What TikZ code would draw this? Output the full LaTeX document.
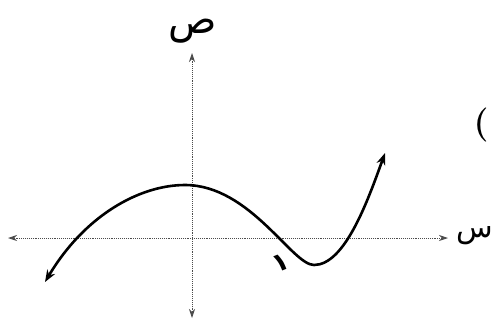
\documentclass[tikz,border=0pt]{standalone}
\usepackage{fontspec}
\newfontfamily\arabicfont[Script=Arabic]{DejaVu Sans}
\TeXXeTstate=1
\usetikzlibrary{arrows.meta}
\tikzset{
  axisline/.style={draw=black!70, line width=0.9pt, densely dotted, {Stealth[length=9pt,width=6pt]}-{Stealth[length=9pt,width=6pt]}},
  curveline/.style={draw=black, line width=2.6pt, {Stealth[length=12pt,width=9pt]}-{Stealth[length=12pt,width=9pt]}},
  arlabel/.style={inner sep=0pt, font=\arabicfont\fontsize{40}{44}\selectfont}
}
\begin{document}
\begin{tikzpicture}[x=1pt,y=-1pt]
\useasboundingbox (0,0) rectangle (497,325);
\clip (0,0) rectangle (497,325);
% axes
\coordinate (xl) at (8,238);
\coordinate (xr) at (448,238);
\coordinate (yt) at (192,53);
\coordinate (yb) at (192,318);
\draw[axisline] (xl) -- (xr);
\draw[axisline] (yt) -- (yb);
% labels
\node[arlabel] (ylab) at (193,31) {\beginR ص\endR};
\node[arlabel, font=\arabicfont\fontsize{30}{34}\selectfont] (xlab) at (475,236) {\beginR س\endR};
\node[inner sep=0pt, font=\bfseries\fontsize{34}{38}\selectfont] (paren) at (481,125) {(};
\node[inner sep=0pt, rotate=22, font=\arabicfont\bfseries\fontsize{26}{28}\selectfont] (one) at (281,263) {١};
% curve
\coordinate (p0) at (45,282);
\coordinate (pmax) at (185,185);
\coordinate (pmin) at (314,265);
\coordinate (p1) at (385,153);
\draw[curveline] (p0) .. controls (85,215) and (140,185) .. (pmax)
  .. controls (250,185) and (292,265) .. (pmin)
  .. controls (345,265) and (368,200) .. (p1);
\end{tikzpicture}
\end{document}
